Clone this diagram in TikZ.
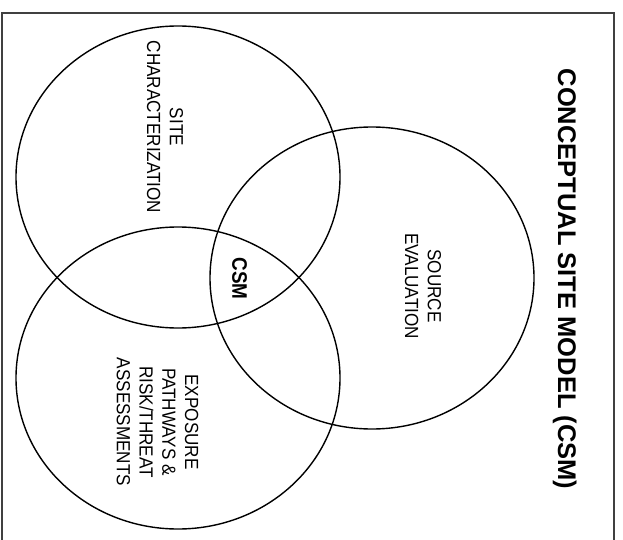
\documentclass[tikz,border=0pt]{standalone}
\usepackage{fontspec}
\setmainfont{Liberation Sans}
\newfontfamily\vennfont{Liberation Sans}[FakeStretch=0.9]
\usetikzlibrary{shapes.geometric}

\begin{document}
\begin{tikzpicture}[
    x=1pt, y=-1pt,
    set/.style={ellipse, draw=black, line width=1.4pt, minimum width=324pt, minimum height=302pt, inner sep=0pt},
    setname/.style={rotate=-90, align=center, inner sep=0pt, font=\vennfont\fontsize{19}{22.8}\selectfont},
    core/.style={rotate=-90, inner sep=0pt, font=\vennfont\bfseries\fontsize{21}{24}\selectfont},
    heading/.style={rotate=-90, inner sep=0pt, anchor=base, font=\bfseries\fontsize{25.5}{30}\selectfont}
]
\useasboundingbox (0,0) rectangle (623,540);

% Frame (open at the bottom)
\draw[line width=1.5pt, black!75] (2,541) |- (614,13) -- (614,541);

% Title
\node[heading] (title) at (558,279) {CONCEPTUAL SITE MODEL (CSM)};

% Sets
\node[set] (site) at (178,177) {};
\node[set] (source) at (372,278) {};
\node[set] (exposure) at (178,378) {};

% Set names
\node[setname] (sitetext) at (165,127) {SITE\\CHARACTERIZATION};
\node[setname] (sourcetext) at (423,286) {SOURCE\\EVALUATION};
\node[setname] (exposuretext) at (157.5,422) {EXPOSURE\\PATHWAYS \&\\RISK/THREAT\\ASSESSMENTS};

% Common part
\node[core] (csm) at (239.5,278.5) {CSM};

\end{tikzpicture}
\end{document}
